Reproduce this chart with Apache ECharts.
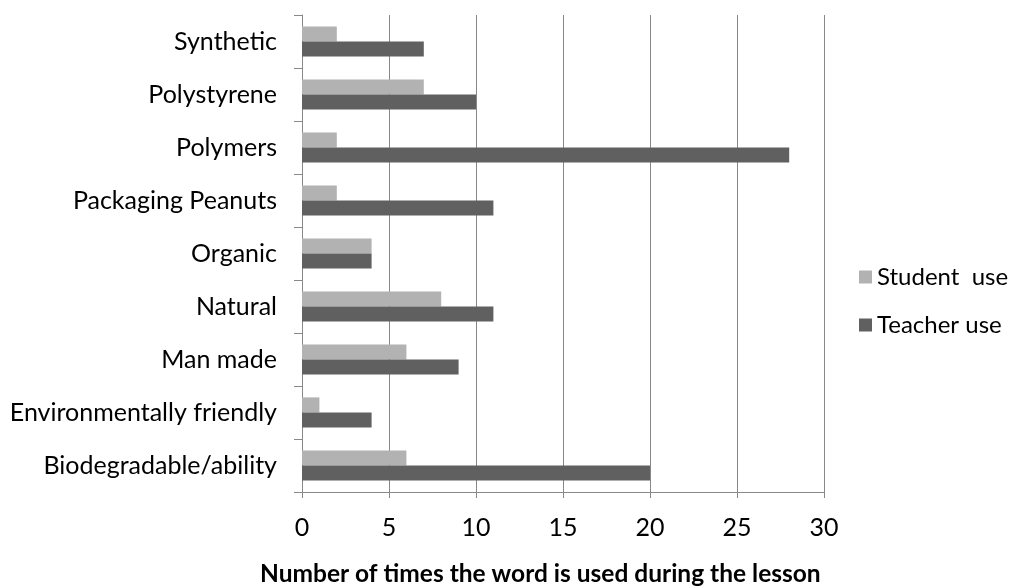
<!DOCTYPE html>
<html>
<head>
<meta charset="utf-8">
<script src="https://cdn.jsdelivr.net/npm/echarts@6/dist/echarts.min.js"></script>
<style>
html,body{margin:0;padding:0;background:#fff;}
#chart{width:1019px;height:588px;}
</style>
</head>
<body>
<div id="chart"></div>
<script>
const categories = ['Biodegradable/ability','Environmentally friendly','Man made','Natural','Organic','Packaging Peanuts','Polymers','Polystyrene','Synthetic'];
const studentUse = [6, 1, 6, 8, 4, 2, 2, 7, 2];
const teacherUse = [20, 4, 9, 11, 4, 11, 28, 10, 7];
const seriesNames = ['Student  use', 'Teacher use'];
const xTicks = {min: 0, max: 30, interval: 5};
const axisTitle = 'Number of times the word is used during the lesson';

const FONT = 'Lato';
const chart = echarts.init(document.getElementById('chart'));
chart.setOption({
  animation: false,
  backgroundColor: '#ffffff',
  textStyle: {fontFamily: FONT},
  title: {
    text: axisTitle,
    left: 255,
    top: 557,
    textStyle: {fontFamily: FONT, fontWeight: 'bold', fontSize: 24.5, color: '#000'}
  },
  grid: {left: 302, right: 195, top: 15, bottom: 96, containLabel: false},
  legend: {
    orient: 'vertical',
    left: 854,
    top: 260,
    itemWidth: 13,
    itemHeight: 13,
    itemGap: 24,
    icon: 'rect',
    textStyle: {fontFamily: FONT, fontSize: 24, color: '#000'},
    data: seriesNames
  },
  xAxis: {
    type: 'value',
    min: xTicks.min, max: xTicks.max, interval: xTicks.interval,
    axisLine: {show: true, lineStyle: {color: '#888', width: 1}},
    axisTick: {show: true, length: 6, lineStyle: {color: '#888'}},
    axisLabel: {fontFamily: FONT, fontSize: 25, color: '#000', margin: 23},
    splitLine: {show: true, lineStyle: {color: '#888', width: 1}}
  },
  yAxis: {
    type: 'category',
    data: categories,
    axisLine: {show: true, lineStyle: {color: '#888', width: 1}},
    axisTick: {show: true, length: 8, lineStyle: {color: '#888'}},
    axisLabel: {fontFamily: FONT, fontSize: 25, color: '#000', margin: 25},
    splitLine: {show: false}
  },
  series: [
    {
      name: seriesNames[0], type: 'bar', data: studentUse,
      itemStyle: {color: '#b2b2b2'},
      barGap: '0%', barCategoryGap: '43%'
    },
    {
      name: seriesNames[1], type: 'bar', data: teacherUse,
      itemStyle: {color: '#606060'},
      barGap: '0%', barCategoryGap: '43%'
    }
  ]
});
</script>
</body>
</html>
